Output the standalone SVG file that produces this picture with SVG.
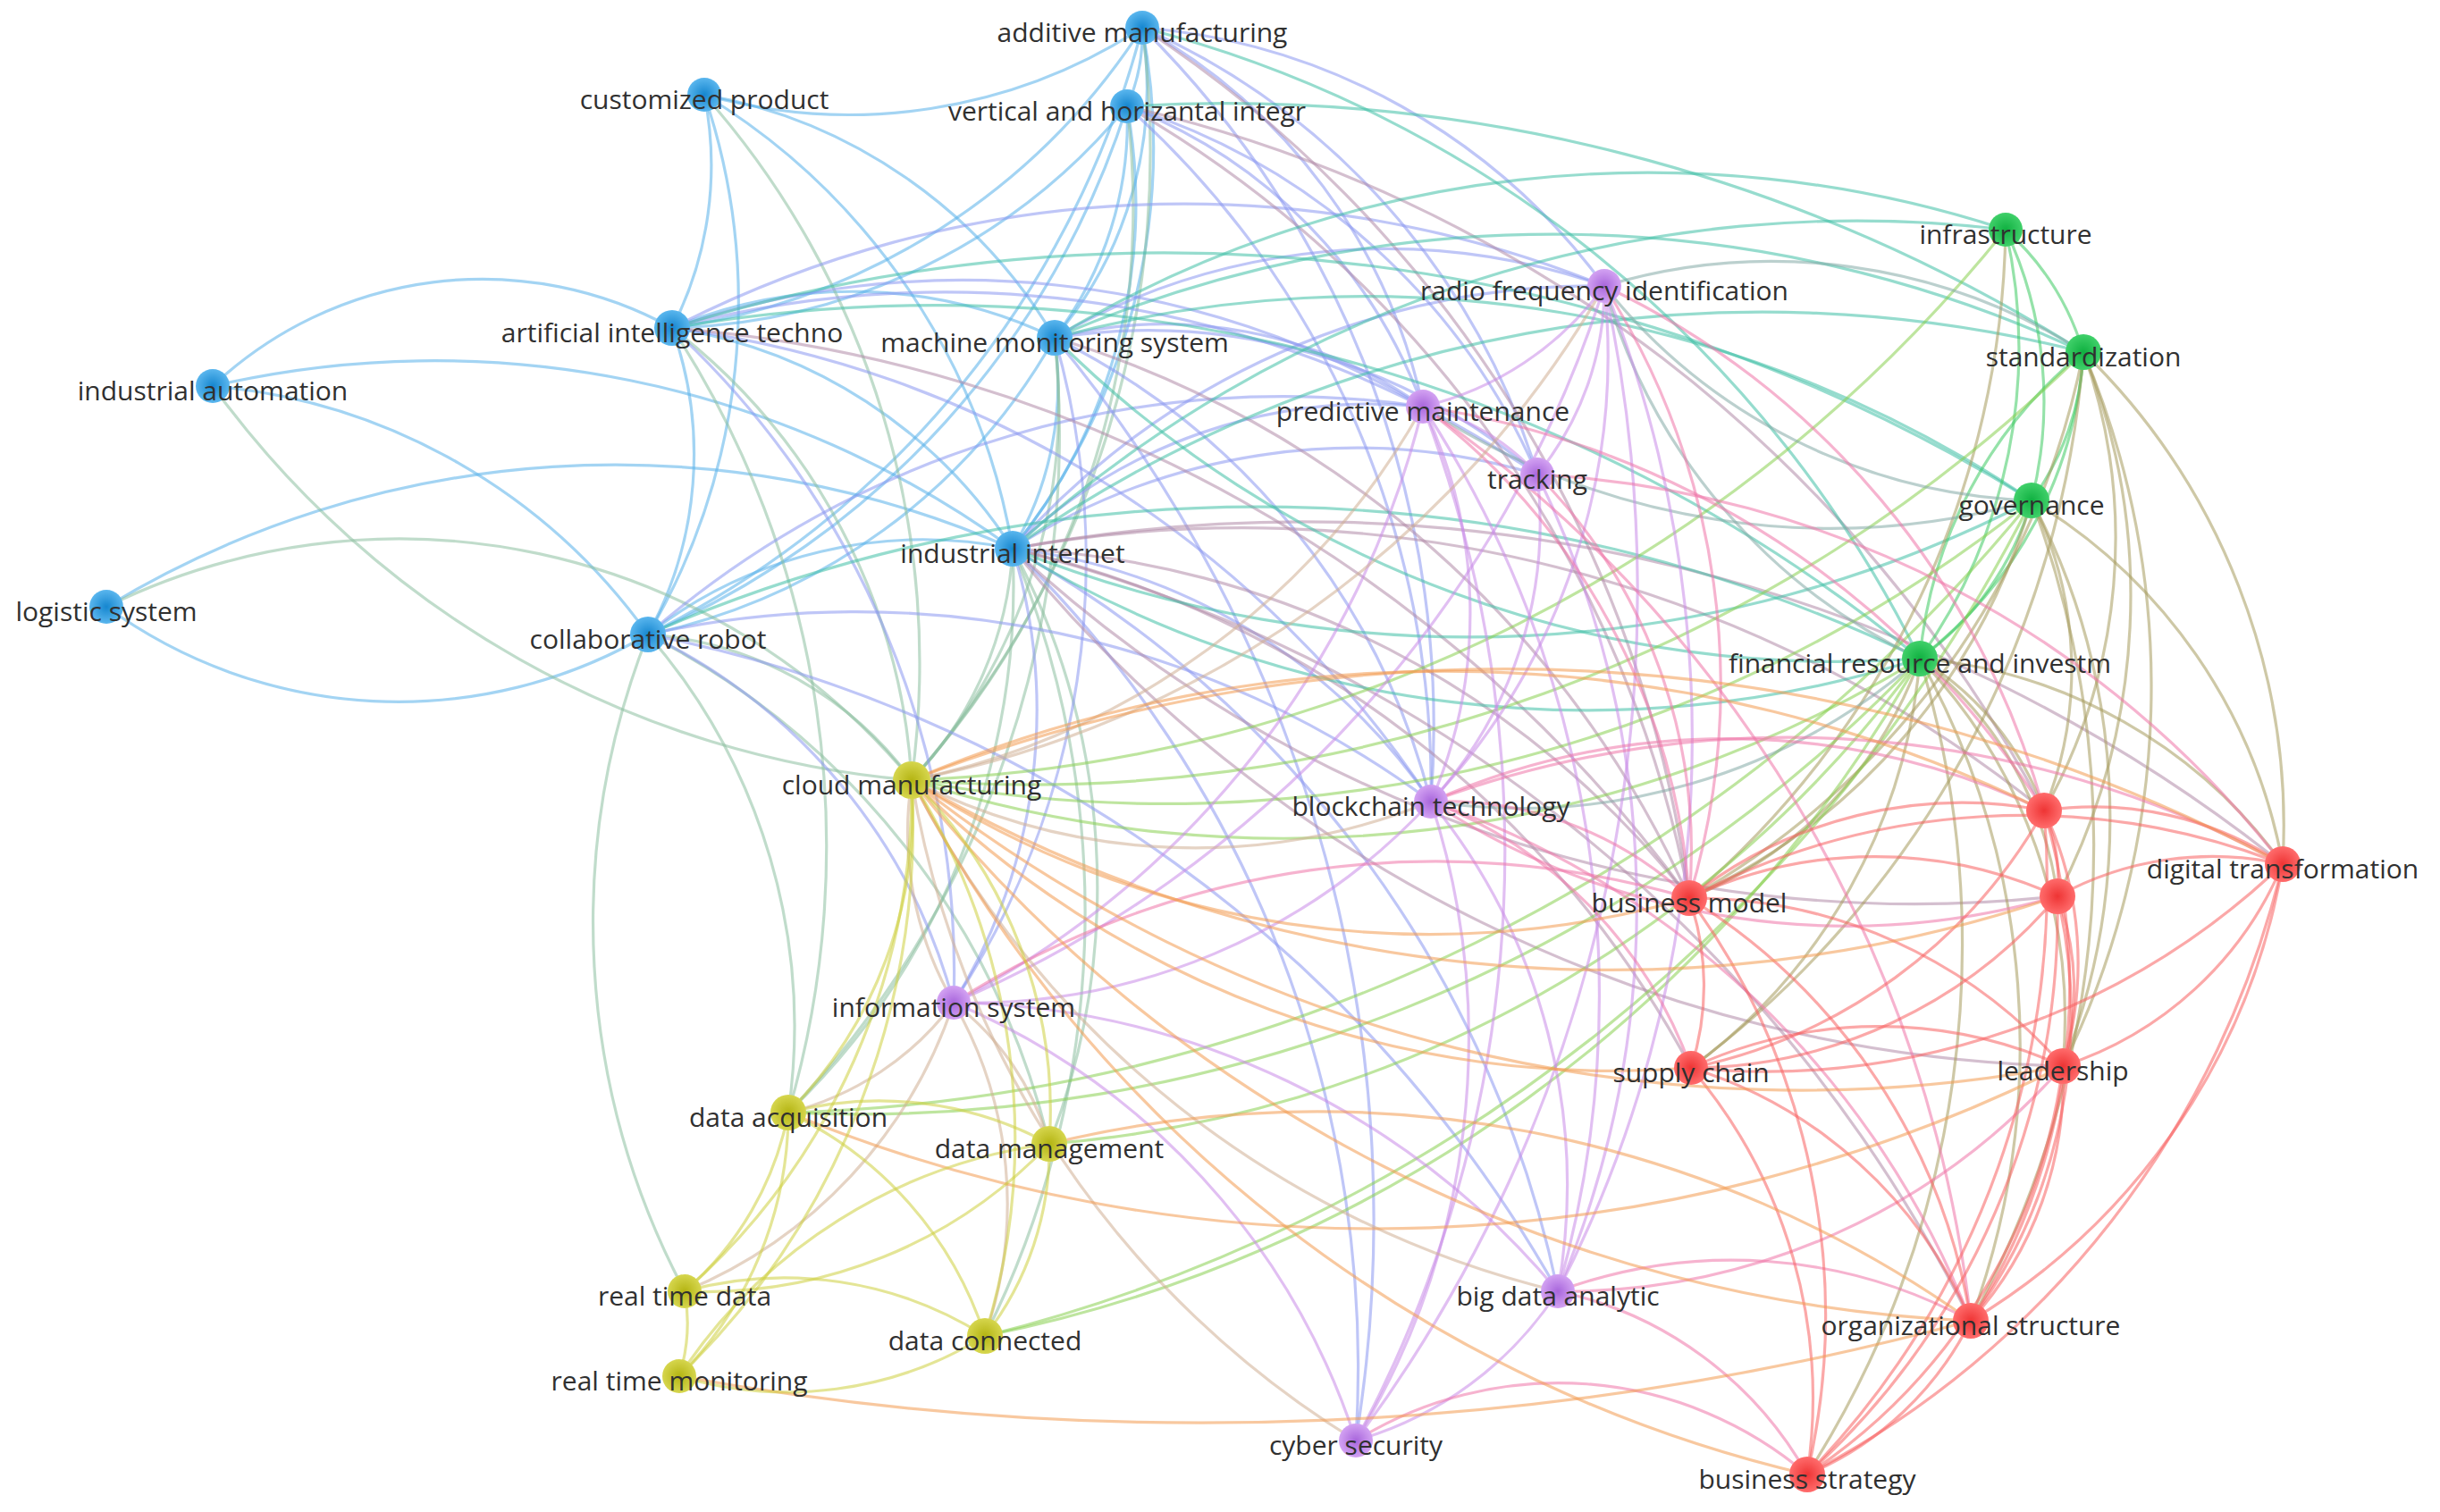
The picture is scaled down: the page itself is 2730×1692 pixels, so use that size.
<svg xmlns="http://www.w3.org/2000/svg" width="2730" height="1692" viewBox="0 0 2730 1692">
<defs>
<radialGradient id="gBlue"><stop offset="0" stop-color="#1586cf"/><stop offset="1" stop-color="#5ab6ee"/></radialGradient>
<radialGradient id="gGreen"><stop offset="0" stop-color="#0fb040"/><stop offset="1" stop-color="#40d06a"/></radialGradient>
<radialGradient id="gPurple"><stop offset="0" stop-color="#a866dc"/><stop offset="1" stop-color="#d3a2f2"/></radialGradient>
<radialGradient id="gRed"><stop offset="0" stop-color="#ee3434"/><stop offset="1" stop-color="#ff6c6c"/></radialGradient>
<radialGradient id="gYellow"><stop offset="0" stop-color="#b4b412"/><stop offset="1" stop-color="#d6d64e"/></radialGradient>
</defs>
<style>
#edges path{fill:none;stroke-width:3.2;stroke-opacity:0.55}
.bb{stroke:#58b0ea}.gg{stroke:#3ecb62}.pp{stroke:#c88ae8}.rr{stroke:#f86060}.yy{stroke:#cdd040}
.bg{stroke:#3fbfa6}.bp{stroke:#8a98f0}.br{stroke:#b08aa8}.by{stroke:#8cc0a0}
.gp{stroke:#83aaa5}.gr{stroke:#a59a5c}.gy{stroke:#88d050}.pr{stroke:#ee74a8}.py{stroke:#cfae94}.ry{stroke:#f29a50}
.node text{font-family:"Open Sans","Liberation Sans",sans-serif;font-size:30px;fill:#303030;text-anchor:middle}
.blue{fill:url(#gBlue)}.green{fill:url(#gGreen)}.purple{fill:url(#gPurple)}.red{fill:url(#gRed)}.yellow{fill:url(#gYellow)}
</style>
<rect width="2730" height="1692" fill="#ffffff"/>
<g id="edges">
<path class="bb" d="M1278 31A200 200 0 0 1 1261 119"/>
<path class="bb" d="M1278 31A430 430 0 0 1 1180 378"/>
<path class="bb" d="M1278 31A720 720 0 0 1 1133 614"/>
<path class="bb" d="M1278 31A750 750 0 0 1 752 367"/>
<path class="bb" d="M1278 31A1050 1050 0 0 1 725 710"/>
<path class="bb" d="M1278 31A600 600 0 0 1 788 106"/>
<path class="bb" d="M788 106A400 400 0 0 1 752 367"/>
<path class="bb" d="M788 106A730 730 0 0 1 725 710"/>
<path class="bb" d="M788 106A740 740 0 0 1 1133 614"/>
<path class="bb" d="M788 106A570 570 0 0 1 1180 378"/>
<path class="bb" d="M1261 119A400 400 0 0 1 1180 378"/>
<path class="bb" d="M1261 119A610 610 0 0 1 1133 614"/>
<path class="bb" d="M1261 119A680 680 0 0 1 752 367"/>
<path class="bb" d="M1261 119A960 960 0 0 1 725 710"/>
<path class="bb" d="M752 367A520 520 0 0 1 1180 378"/>
<path class="bb" d="M752 367A550 550 0 0 1 1133 614"/>
<path class="bb" d="M752 367A420 420 0 0 1 725 710"/>
<path class="bb" d="M1180 378A360 360 0 0 1 1133 614"/>
<path class="bb" d="M1180 378A680 680 0 0 1 725 710"/>
<path class="bb" d="M238 432A440 440 0 0 1 752 367"/>
<path class="bb" d="M238 432A670 670 0 0 1 725 710"/>
<path class="bb" d="M238 432A1100 1100 0 0 1 1133 614"/>
<path class="bb" d="M725 710A555 555 0 0 1 119 679"/>
<path class="bb" d="M119 679A1100 1100 0 0 1 1133 614"/>
<path class="bb" d="M725 710A500 500 0 0 1 1133 614"/>
<path class="by" d="M1278 31A1060 1060 0 0 1 1020 873"/>
<path class="by" d="M788 106A960 960 0 0 1 1020 873"/>
<path class="by" d="M1261 119A950 950 0 0 1 1020 873"/>
<path class="by" d="M752 367A690 690 0 0 1 1020 873"/>
<path class="by" d="M752 367A1060 1060 0 0 1 882 1245"/>
<path class="by" d="M1180 378A620 620 0 0 1 1020 873"/>
<path class="by" d="M1180 378A1100 1100 0 0 1 882 1245"/>
<path class="by" d="M1020 873A1080 1080 0 0 1 238 432"/>
<path class="by" d="M119 679A744 744 0 0 1 1020 873"/>
<path class="by" d="M725 710A400 400 0 0 1 1020 873"/>
<path class="by" d="M725 710A670 670 0 0 1 882 1245"/>
<path class="by" d="M766 1445A880 880 0 0 1 725 710"/>
<path class="by" d="M725 710A870 870 0 0 1 1174 1280"/>
<path class="by" d="M1133 614A400 400 0 0 1 1020 873"/>
<path class="by" d="M1133 614A820 820 0 0 1 882 1245"/>
<path class="by" d="M1133 614A800 800 0 0 1 1174 1280"/>
<path class="by" d="M1133 614A1060 1060 0 0 1 1102 1495"/>
<path class="bp" d="M1278 31A640 640 0 0 1 1592 455"/>
<path class="bp" d="M1278 31A800 800 0 0 1 1720 531"/>
<path class="bp" d="M1278 31A1100 1100 0 0 1 1601 897"/>
<path class="bp" d="M1278 31A710 710 0 0 1 1795 320"/>
<path class="bp" d="M1261 119A570 570 0 0 1 1592 455"/>
<path class="bp" d="M1261 119A1020 1020 0 0 1 1601 897"/>
<path class="bp" d="M1261 119A740 740 0 0 1 1720 531"/>
<path class="bp" d="M752 367A1010 1010 0 0 1 1592 455"/>
<path class="bp" d="M752 367A1250 1250 0 0 1 1795 320"/>
<path class="bp" d="M752 367A1200 1200 0 0 1 1601 897"/>
<path class="bp" d="M752 367A980 980 0 0 1 1067 1122"/>
<path class="bp" d="M752 367A1180 1180 0 0 1 1720 531"/>
<path class="bp" d="M1180 378A500 500 0 0 1 1592 455"/>
<path class="bp" d="M1180 378A740 740 0 0 1 1795 320"/>
<path class="bp" d="M1180 378A670 670 0 0 1 1720 531"/>
<path class="bp" d="M1180 378A800 800 0 0 1 1601 897"/>
<path class="bp" d="M1180 378A900 900 0 0 1 1067 1122"/>
<path class="bp" d="M1180 378A1540 1540 0 0 1 1517 1612"/>
<path class="bp" d="M725 710A640 640 0 0 1 1067 1122"/>
<path class="bp" d="M725 710A1080 1080 0 0 1 1601 897"/>
<path class="bp" d="M725 710A1080 1080 0 0 1 1592 455"/>
<path class="bp" d="M725 710A1500 1500 0 0 1 1743 1445"/>
<path class="bp" d="M1133 614A580 580 0 0 1 1592 455"/>
<path class="bp" d="M1133 614A870 870 0 0 1 1795 320"/>
<path class="bp" d="M1133 614A710 710 0 0 1 1720 531"/>
<path class="bp" d="M1133 614A660 660 0 0 1 1601 897"/>
<path class="bp" d="M1133 614A620 620 0 0 1 1067 1122"/>
<path class="bp" d="M1133 614A1240 1240 0 0 1 1743 1445"/>
<path class="bp" d="M1133 614A1280 1280 0 0 1 1517 1612"/>
<path class="br" d="M1278 31A1380 1380 0 0 1 1890 1005"/>
<path class="br" d="M1261 119A1300 1300 0 0 1 1890 1005"/>
<path class="br" d="M1261 119A1550 1550 0 0 1 2287 907"/>
<path class="br" d="M752 367A1560 1560 0 0 1 1890 1005"/>
<path class="br" d="M1180 378A1140 1140 0 0 1 1890 1005"/>
<path class="br" d="M1133 614A1020 1020 0 0 1 1890 1005"/>
<path class="br" d="M1133 614A1760 1760 0 0 1 2554 967"/>
<path class="br" d="M1133 614A1430 1430 0 0 1 2287 907"/>
<path class="br" d="M2302 1003A1480 1480 0 0 1 1133 614"/>
<path class="br" d="M1133 614A1150 1150 0 0 1 1892 1195"/>
<path class="br" d="M2308 1193A1570 1570 0 0 1 1133 614"/>
<path class="br" d="M1133 614A1650 1650 0 0 1 2205 1478"/>
<path class="bg" d="M1278 31A1340 1340 0 0 1 2148 737"/>
<path class="bg" d="M1261 119A1800 1800 0 0 1 2331 394"/>
<path class="bg" d="M752 367A1730 1730 0 0 1 2148 737"/>
<path class="bg" d="M752 367A1840 1840 0 0 1 2273 560"/>
<path class="bg" d="M1180 378A1285 1285 0 0 1 2244 257"/>
<path class="bg" d="M1180 378A1400 1400 0 0 1 2331 394"/>
<path class="bg" d="M2148 737A1240 1240 0 0 1 1180 378"/>
<path class="bg" d="M1180 378A1330 1330 0 0 1 2273 560"/>
<path class="bg" d="M725 710A1700 1700 0 0 1 2148 737"/>
<path class="bg" d="M2148 737A1230 1230 0 0 1 1133 614"/>
<path class="bg" d="M2273 560A1370 1370 0 0 1 1133 614"/>
<path class="bg" d="M1133 614A1460 1460 0 0 1 2331 394"/>
<path class="bg" d="M1133 614A1400 1400 0 0 1 2244 257"/>
<path class="gg" d="M2244 257A300 300 0 0 1 2331 394"/>
<path class="gg" d="M2244 257A450 450 0 0 1 2273 560"/>
<path class="gg" d="M2244 257A600 600 0 0 1 2148 737"/>
<path class="gg" d="M2331 394A300 300 0 0 1 2273 560"/>
<path class="gg" d="M2331 394A470 470 0 0 1 2148 737"/>
<path class="gg" d="M2273 560A330 330 0 0 1 2148 737"/>
<path class="gg" d="M2148 737A500 500 0 0 1 2331 394"/>
<path class="gr" d="M2244 257A1000 1000 0 0 1 1890 1005"/>
<path class="gr" d="M2331 394A900 900 0 0 1 1890 1005"/>
<path class="gr" d="M2331 394A740 740 0 0 1 2554 967"/>
<path class="gr" d="M2331 394A960 960 0 0 1 2308 1193"/>
<path class="gr" d="M2331 394A730 730 0 0 1 2302 1003"/>
<path class="gr" d="M2331 394A620 620 0 0 1 2287 907"/>
<path class="gr" d="M2331 394A1100 1100 0 0 1 1892 1195"/>
<path class="gr" d="M2273 560A700 700 0 0 1 1890 1005"/>
<path class="gr" d="M2273 560A420 420 0 0 1 2287 907"/>
<path class="gr" d="M2273 560A600 600 0 0 1 2554 967"/>
<path class="gr" d="M2273 560A760 760 0 0 1 2308 1193"/>
<path class="gr" d="M2273 560A1100 1100 0 0 1 2205 1478"/>
<path class="gr" d="M2148 737A450 450 0 0 1 1890 1005"/>
<path class="gr" d="M2148 737A330 330 0 0 1 2287 907"/>
<path class="gr" d="M2148 737A400 400 0 0 1 2302 1003"/>
<path class="gr" d="M2148 737A560 560 0 0 1 2554 967"/>
<path class="gr" d="M2148 737A580 580 0 0 1 2308 1193"/>
<path class="gr" d="M2148 737A890 890 0 0 1 2205 1478"/>
<path class="gr" d="M2148 737A630 630 0 0 1 1892 1195"/>
<path class="gr" d="M2148 737A1100 1100 0 0 1 2022 1650"/>
<path class="gy" d="M2244 257A1650 1650 0 0 1 1020 873"/>
<path class="gy" d="M2331 394A1680 1680 0 0 1 1020 873"/>
<path class="gy" d="M2273 560A1550 1550 0 0 1 1020 873"/>
<path class="gy" d="M2273 560A1860 1860 0 0 1 882 1245"/>
<path class="gy" d="M2148 737A1360 1360 0 0 1 1020 873"/>
<path class="gy" d="M2148 737A1550 1550 0 0 1 1102 1495"/>
<path class="gy" d="M2148 737A1640 1640 0 0 1 882 1245"/>
<path class="gy" d="M2273 560A1800 1800 0 0 1 1102 1495"/>
<path class="gy" d="M2148 737A1340 1340 0 0 1 1174 1280"/>
<path class="gp" d="M1795 320A650 650 0 0 1 2331 394"/>
<path class="gp" d="M2273 560A640 640 0 0 1 1795 320"/>
<path class="gp" d="M2273 560A830 830 0 0 1 1592 455"/>
<path class="gp" d="M2148 737A660 660 0 0 1 1795 320"/>
<path class="gp" d="M2148 737A680 680 0 0 1 1601 897"/>
<path class="pp" d="M1795 320A350 350 0 0 1 1592 455"/>
<path class="pp" d="M1795 320A330 330 0 0 1 1720 531"/>
<path class="pp" d="M1795 320A730 730 0 0 1 1601 897"/>
<path class="pp" d="M1795 320A1350 1350 0 0 1 1743 1445"/>
<path class="pp" d="M1795 320A1590 1590 0 0 1 1517 1612"/>
<path class="pp" d="M1795 320A1300 1300 0 0 1 1067 1122"/>
<path class="pp" d="M1592 455A250 250 0 0 1 1720 531"/>
<path class="pp" d="M1592 455A530 530 0 0 1 1601 897"/>
<path class="pp" d="M1592 455A1200 1200 0 0 1 1743 1445"/>
<path class="pp" d="M1592 455A1390 1390 0 0 1 1517 1612"/>
<path class="pp" d="M1592 455A1020 1020 0 0 1 1067 1122"/>
<path class="pp" d="M1720 531A460 460 0 0 1 1601 897"/>
<path class="pp" d="M1720 531A1100 1100 0 0 1 1743 1445"/>
<path class="pp" d="M1601 897A680 680 0 0 1 1743 1445"/>
<path class="pp" d="M1601 897A860 860 0 0 1 1517 1612"/>
<path class="pp" d="M1601 897A700 700 0 0 1 1067 1122"/>
<path class="pp" d="M1067 1122A900 900 0 0 1 1743 1445"/>
<path class="pp" d="M1067 1122A800 800 0 0 1 1517 1612"/>
<path class="pp" d="M1743 1445A400 400 0 0 1 1517 1612"/>
<path class="pr" d="M1795 320A830 830 0 0 1 1890 1005"/>
<path class="pr" d="M1795 320A920 920 0 0 1 2287 907"/>
<path class="pr" d="M1592 455A750 750 0 0 1 1890 1005"/>
<path class="pr" d="M1592 455A1000 1000 0 0 1 2287 907"/>
<path class="pr" d="M1592 455A1430 1430 0 0 1 2205 1478"/>
<path class="pr" d="M1720 531A600 600 0 0 1 1890 1005"/>
<path class="pr" d="M1720 531A1130 1130 0 0 1 2554 967"/>
<path class="pr" d="M1601 897A400 400 0 0 1 1890 1005"/>
<path class="pr" d="M1601 897A820 820 0 0 1 2287 907"/>
<path class="pr" d="M2302 1003A850 850 0 0 1 1601 897"/>
<path class="pr" d="M1601 897A1150 1150 0 0 1 2554 967"/>
<path class="pr" d="M1601 897A1000 1000 0 0 1 2205 1478"/>
<path class="pr" d="M1601 897A500 500 0 0 1 1892 1195"/>
<path class="pr" d="M1067 1122A1000 1000 0 0 1 1890 1005"/>
<path class="pr" d="M1743 1445A560 560 0 0 1 2205 1478"/>
<path class="pr" d="M1743 1445A420 420 0 0 1 2022 1650"/>
<path class="pr" d="M2308 1193A740 740 0 0 1 1743 1445"/>
<path class="pr" d="M1517 1612A430 430 0 0 1 2022 1650"/>
<path class="py" d="M1795 320A1140 1140 0 0 1 1020 873"/>
<path class="py" d="M1592 455A850 850 0 0 1 1020 873"/>
<path class="py" d="M1601 897A700 700 0 0 1 1020 873"/>
<path class="py" d="M1067 1122A380 380 0 0 1 1020 873"/>
<path class="py" d="M1067 1122A330 330 0 0 1 882 1245"/>
<path class="py" d="M1067 1122A300 300 0 0 1 1174 1280"/>
<path class="py" d="M1067 1122A450 450 0 0 1 1102 1495"/>
<path class="py" d="M1067 1122A530 530 0 0 1 766 1445"/>
<path class="py" d="M1743 1445A1100 1100 0 0 1 1020 873"/>
<path class="py" d="M1517 1612A1070 1070 0 0 1 1020 873"/>
<path class="rr" d="M1890 1005A490 490 0 0 1 2287 907"/>
<path class="rr" d="M1890 1005A490 490 0 0 1 2302 1003"/>
<path class="rr" d="M1890 1005A800 800 0 0 1 2554 967"/>
<path class="rr" d="M1890 1005A300 300 0 0 1 1892 1195"/>
<path class="rr" d="M1890 1005A550 550 0 0 1 2308 1193"/>
<path class="rr" d="M1890 1005A680 680 0 0 1 2205 1478"/>
<path class="rr" d="M1890 1005A790 790 0 0 1 2022 1650"/>
<path class="rr" d="M2287 907A200 200 0 0 1 2302 1003"/>
<path class="rr" d="M2287 907A380 380 0 0 1 2554 967"/>
<path class="rr" d="M2287 907A400 400 0 0 1 2308 1193"/>
<path class="rr" d="M2287 907A690 690 0 0 1 2205 1478"/>
<path class="rr" d="M2287 907A590 590 0 0 1 1892 1195"/>
<path class="rr" d="M2287 907A950 950 0 0 1 2022 1650"/>
<path class="rr" d="M2302 1003A360 360 0 0 1 2554 967"/>
<path class="rr" d="M2302 1003A300 300 0 0 1 2308 1193"/>
<path class="rr" d="M2302 1003A580 580 0 0 1 2205 1478"/>
<path class="rr" d="M2302 1003A540 540 0 0 1 1892 1195"/>
<path class="rr" d="M2302 1003A850 850 0 0 1 2022 1650"/>
<path class="rr" d="M2554 967A400 400 0 0 1 2308 1193"/>
<path class="rr" d="M2554 967A740 740 0 0 1 2205 1478"/>
<path class="rr" d="M2554 967A1040 1040 0 0 1 2022 1650"/>
<path class="rr" d="M2554 967A840 840 0 0 1 1892 1195"/>
<path class="rr" d="M1892 1195A500 500 0 0 1 2205 1478"/>
<path class="rr" d="M1892 1195A570 570 0 0 1 2022 1650"/>
<path class="rr" d="M1892 1195A500 500 0 0 1 2308 1193"/>
<path class="rr" d="M2308 1193A400 400 0 0 1 2205 1478"/>
<path class="rr" d="M2308 1193A650 650 0 0 1 2022 1650"/>
<path class="rr" d="M2205 1478A360 360 0 0 1 2022 1650"/>
<path class="ry" d="M1890 1005A1060 1060 0 0 1 1020 873"/>
<path class="ry" d="M2308 1193A1600 1600 0 0 1 1020 873"/>
<path class="ry" d="M1020 873A1520 1520 0 0 1 2287 907"/>
<path class="ry" d="M2302 1003A1550 1550 0 0 1 1020 873"/>
<path class="ry" d="M1020 873A1840 1840 0 0 1 2554 967"/>
<path class="ry" d="M1892 1195A1110 1110 0 0 1 1020 873"/>
<path class="ry" d="M2205 1478A1600 1600 0 0 1 1020 873"/>
<path class="ry" d="M2022 1650A1520 1520 0 0 1 1020 873"/>
<path class="ry" d="M2308 1193A1720 1720 0 0 1 882 1245"/>
<path class="ry" d="M1174 1280A1260 1260 0 0 1 2205 1478"/>
<path class="ry" d="M2205 1478A3300 3300 0 0 1 760 1540"/>
<path class="yy" d="M1020 873A480 480 0 0 1 882 1245"/>
<path class="yy" d="M1020 873A520 520 0 0 1 1174 1280"/>
<path class="yy" d="M1020 873A750 750 0 0 1 766 1445"/>
<path class="yy" d="M1020 873A750 750 0 0 1 1102 1495"/>
<path class="yy" d="M1020 873A860 860 0 0 1 760 1540"/>
<path class="yy" d="M882 1245A350 350 0 0 1 766 1445"/>
<path class="yy" d="M882 1245A420 420 0 0 1 760 1540"/>
<path class="yy" d="M882 1245A420 420 0 0 1 1102 1495"/>
<path class="yy" d="M882 1245A400 400 0 0 1 1174 1280"/>
<path class="yy" d="M1174 1280A340 340 0 0 1 1102 1495"/>
<path class="yy" d="M1174 1280A530 530 0 0 1 766 1445"/>
<path class="yy" d="M766 1445A200 200 0 0 1 760 1540"/>
<path class="yy" d="M766 1445A420 420 0 0 1 1102 1495"/>
<path class="yy" d="M1102 1495A420 420 0 0 1 760 1540"/>
<path class="yy" d="M760 1540A590 590 0 0 1 1174 1280"/>
</g>
<g id="node-additive-manufacturing" class="node"><circle class="blue" cx="1278" cy="31" r="19"/><text x="1278" y="47">additive manufacturing</text></g>
<g id="node-customized-product" class="node"><circle class="blue" cx="788" cy="106" r="19"/><text x="788" y="122">customized product</text></g>
<g id="node-vertical-and-horizantal-integr" class="node"><circle class="blue" cx="1261" cy="119" r="19"/><text x="1261" y="135">vertical and horizantal integr</text></g>
<g id="node-artificial-intelligence-techno" class="node"><circle class="blue" cx="752" cy="367" r="20"/><text x="752" y="383">artificial intelligence techno</text></g>
<g id="node-machine-monitoring-system" class="node"><circle class="blue" cx="1180" cy="378" r="20"/><text x="1180" y="394">machine monitoring system</text></g>
<g id="node-industrial-automation" class="node"><circle class="blue" cx="238" cy="432" r="19"/><text x="238" y="448">industrial automation</text></g>
<g id="node-logistic-system" class="node"><circle class="blue" cx="119" cy="679" r="19"/><text x="119" y="695">logistic system</text></g>
<g id="node-collaborative-robot" class="node"><circle class="blue" cx="725" cy="710" r="20"/><text x="725" y="726">collaborative robot</text></g>
<g id="node-industrial-internet" class="node"><circle class="blue" cx="1133" cy="614" r="20"/><text x="1133" y="630">industrial internet</text></g>
<g id="node-infrastructure" class="node"><circle class="green" cx="2244" cy="257" r="19"/><text x="2244" y="273">infrastructure</text></g>
<g id="node-standardization" class="node"><circle class="green" cx="2331" cy="394" r="20"/><text x="2331" y="410">standardization</text></g>
<g id="node-governance" class="node"><circle class="green" cx="2273" cy="560" r="20"/><text x="2273" y="576">governance</text></g>
<g id="node-financial-resource-and-investm" class="node"><circle class="green" cx="2148" cy="737" r="20"/><text x="2148" y="753">financial resource and investm</text></g>
<g id="node-radio-frequency-identification" class="node"><circle class="purple" cx="1795" cy="320" r="19"/><text x="1795" y="336">radio frequency identification</text></g>
<g id="node-predictive-maintenance" class="node"><circle class="purple" cx="1592" cy="455" r="19"/><text x="1592" y="471">predictive maintenance</text></g>
<g id="node-tracking" class="node"><circle class="purple" cx="1720" cy="531" r="19"/><text x="1720" y="547">tracking</text></g>
<g id="node-blockchain-technology" class="node"><circle class="purple" cx="1601" cy="897" r="19"/><text x="1601" y="913">blockchain technology</text></g>
<g id="node-information-system" class="node"><circle class="purple" cx="1067" cy="1122" r="19"/><text x="1067" y="1138">information system</text></g>
<g id="node-big-data-analytic" class="node"><circle class="purple" cx="1743" cy="1445" r="19"/><text x="1743" y="1461">big data analytic</text></g>
<g id="node-cyber-security" class="node"><circle class="purple" cx="1517" cy="1612" r="19"/><text x="1517" y="1628">cyber security</text></g>
<g id="node-business-model" class="node"><circle class="red" cx="1890" cy="1005" r="20"/><text x="1890" y="1021">business model</text></g>
<g id="node-red-a" class="node"><circle class="red" cx="2287" cy="907" r="20"/></g>
<g id="node-red-b" class="node"><circle class="red" cx="2302" cy="1003" r="20"/></g>
<g id="node-digital-transformation" class="node"><circle class="red" cx="2554" cy="967" r="20"/><text x="2554" y="983">digital transformation</text></g>
<g id="node-supply-chain" class="node"><circle class="red" cx="1892" cy="1195" r="19"/><text x="1892" y="1211">supply chain</text></g>
<g id="node-leadership" class="node"><circle class="red" cx="2308" cy="1193" r="20"/><text x="2308" y="1209">leadership</text></g>
<g id="node-organizational-structure" class="node"><circle class="red" cx="2205" cy="1478" r="20"/><text x="2205" y="1494">organizational structure</text></g>
<g id="node-business-strategy" class="node"><circle class="red" cx="2022" cy="1650" r="20"/><text x="2022" y="1666">business strategy</text></g>
<g id="node-cloud-manufacturing" class="node"><circle class="yellow" cx="1020" cy="873" r="21"/><text x="1020" y="889">cloud manufacturing</text></g>
<g id="node-data-acquisition" class="node"><circle class="yellow" cx="882" cy="1245" r="20"/><text x="882" y="1261">data acquisition</text></g>
<g id="node-data-management" class="node"><circle class="yellow" cx="1174" cy="1280" r="20"/><text x="1174" y="1296">data management</text></g>
<g id="node-real-time-data" class="node"><circle class="yellow" cx="766" cy="1445" r="19"/><text x="766" y="1461">real time data</text></g>
<g id="node-data-connected" class="node"><circle class="yellow" cx="1102" cy="1495" r="20"/><text x="1102" y="1511">data connected</text></g>
<g id="node-real-time-monitoring" class="node"><circle class="yellow" cx="760" cy="1540" r="19"/><text x="760" y="1556">real time monitoring</text></g>
</svg>
